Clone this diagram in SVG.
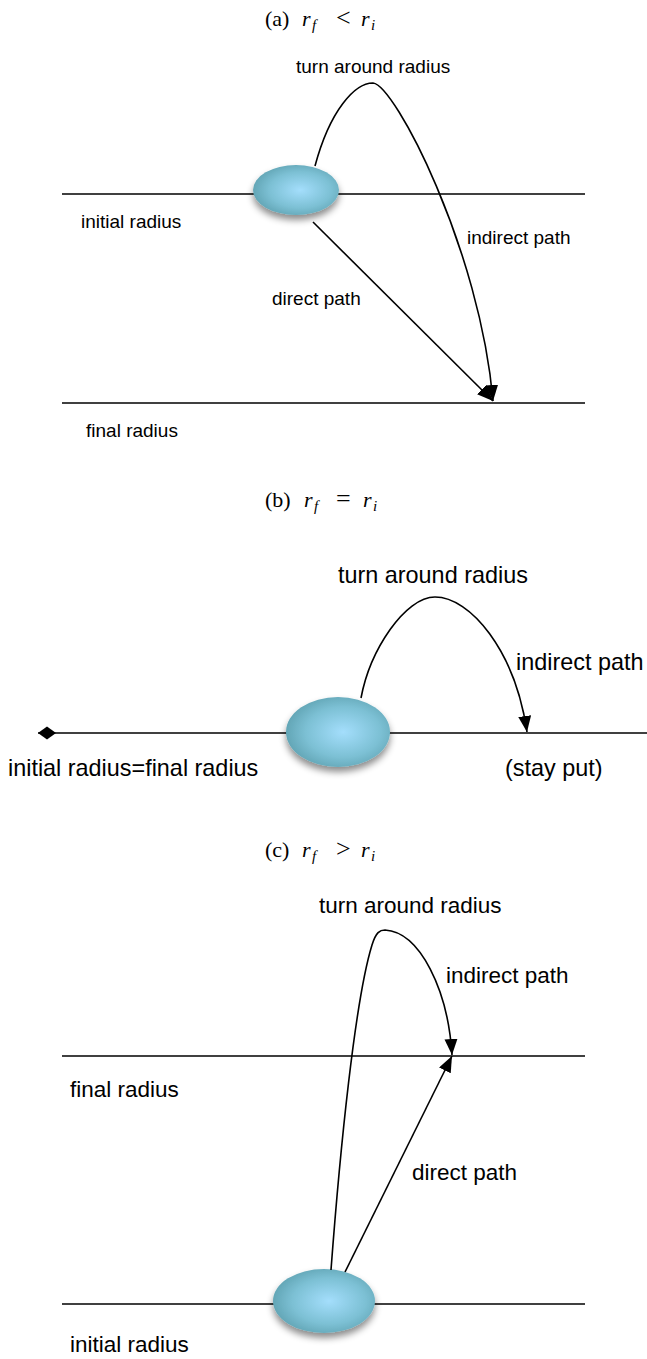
<svg xmlns="http://www.w3.org/2000/svg" width="647" height="1359" viewBox="0 0 647 1359">
<style>
.cap{font-family:"Liberation Serif","DejaVu Serif",serif;font-size:22px;fill:#000}
.it{font-style:italic}
.sub{font-style:italic;font-size:15px}
.rel{font-size:26px}
.lbl{font-family:"Liberation Sans",Arial,sans-serif;fill:#000}
.ln{stroke:#000;stroke-width:1.5;fill:none}
.cv{stroke:#000;stroke-width:1.6;fill:none}
.ball{fill:url(#ballg);filter:url(#sh)}
</style>
<defs>
<radialGradient id="ballg" cx="0.55" cy="0.5" r="0.6">
<stop offset="0" stop-color="#a4defc"/>
<stop offset="0.6" stop-color="#7cc0d4"/>
<stop offset="1" stop-color="#5c9fae"/>
</radialGradient>
<filter id="sh" x="-30%" y="-30%" width="160%" height="180%">
<feDropShadow dx="0" dy="5" stdDeviation="3.5" flood-color="#000" flood-opacity="0.45"/>
</filter>
<marker id="arr" markerUnits="userSpaceOnUse" markerWidth="17" markerHeight="14" refX="16" refY="6.5" orient="auto">
<path d="M0,0 L16,6.5 L0,13 Z" fill="#000"/>
</marker>
<marker id="dia" markerUnits="userSpaceOnUse" markerWidth="20" markerHeight="14" refX="1" refY="7" orient="auto">
<path d="M1,7 L10,0.5 L19,7 L10,13.5 Z" fill="#000"/>
</marker>
</defs>

<!-- captions -->
<text class="cap" y="26"><tspan x="265">(a)</tspan><tspan class="it" x="302">r</tspan><tspan class="sub" x="312" dy="4">f</tspan><tspan class="rel" x="336" dy="-4">&lt;</tspan><tspan class="it" x="361">r</tspan><tspan class="sub" x="371" dy="4">i</tspan></text>
<text class="cap" y="507"><tspan x="265">(b)</tspan><tspan class="it" x="304">r</tspan><tspan class="sub" x="314" dy="4">f</tspan><tspan class="rel" x="336" dy="-4">=</tspan><tspan class="it" x="363">r</tspan><tspan class="sub" x="373" dy="4">i</tspan></text>
<text class="cap" y="857"><tspan x="265">(c)</tspan><tspan class="it" x="302">r</tspan><tspan class="sub" x="312" dy="4">f</tspan><tspan class="rel" x="336" dy="-4">&gt;</tspan><tspan class="it" x="361">r</tspan><tspan class="sub" x="371" dy="4">i</tspan></text>

<!-- radius lines -->
<g id="radius-lines">
<line class="ln" x1="62" y1="194" x2="585" y2="194"/>
<line class="ln" x1="62" y1="403" x2="585" y2="403"/>
<line class="ln" x1="38" y1="733" x2="647" y2="733" marker-start="url(#dia)"/>
<line class="ln" x1="62" y1="1056" x2="585" y2="1056"/>
<line class="ln" x1="62" y1="1304" x2="585" y2="1304"/>
</g>

<!-- nodes -->
<g id="node-a"><ellipse class="ball" cx="296" cy="190" rx="43" ry="25"/></g>
<g id="node-b"><ellipse class="ball" cx="338" cy="732" rx="52" ry="35"/></g>
<g id="node-c"><ellipse class="ball" cx="324" cy="1301" rx="51" ry="32"/></g>

<!-- connectors -->
<g id="connectors">
<path class="cv" d="M315,166 C330,110 355,83 373,83 C395,85 480,250 493,401" marker-end="url(#arr)"/>
<line class="cv" x1="313" y1="222" x2="493" y2="401" marker-end="url(#arr)"/>
<path class="cv" d="M361,698 C370,650 405,597 435,597 C470,597 515,650 527,732" marker-end="url(#arr)"/>
<path class="cv" d="M331,1270 C340,1150 355,1000 372,945 C376,932 380,930 385,930 C420,932 448,990 452,1055" marker-end="url(#arr)"/>
<line class="cv" x1="345" y1="1272" x2="452" y2="1056" marker-end="url(#arr)"/>
</g>

<!-- labels -->
<g id="labels-a" class="lbl" font-size="19">
<text x="296" y="73">turn around radius</text>
<text x="81" y="228">initial radius</text>
<text x="467" y="244">indirect path</text>
<text x="272" y="305">direct path</text>
<text x="86" y="437">final radius</text>
</g>
<g id="labels-b" class="lbl" font-size="23.4">
<text x="338" y="583">turn around radius</text>
<text x="516" y="670">indirect path</text>
<text x="8" y="776">initial radius=final radius</text>
<text x="505" y="776">(stay put)</text>
</g>
<g id="labels-c" class="lbl" font-size="22.5">
<text x="319" y="913">turn around radius</text>
<text x="446" y="983">indirect path</text>
<text x="70" y="1097">final radius</text>
<text x="412" y="1180">direct path</text>
<text x="70" y="1352">initial radius</text>
</g>
</svg>
